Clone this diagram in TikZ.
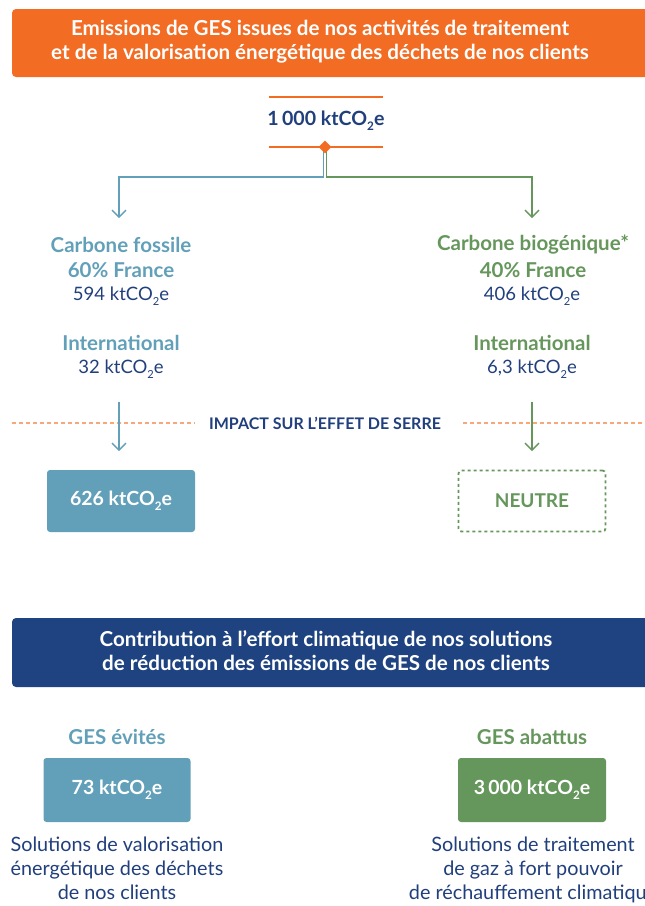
\documentclass[tikz,border=0pt]{standalone}
\usepackage{fontspec}
\setmainfont{Lato}
\usetikzlibrary{arrows.meta,shapes.geometric}
\definecolor{vorange}{HTML}{F26C23}
\definecolor{vlorange}{HTML}{F7A779}
\definecolor{vnavy}{HTML}{1E4380}
\definecolor{vtext}{HTML}{203F7C}
\definecolor{vblue}{HTML}{62A0B9}
\definecolor{vgreen}{HTML}{65965B}
\newcommand\kco{ktCO\raisebox{-0.5ex}{\scalebox{0.6}{2}}e}
\tikzset{
  hdrtext/.style={text=white, font=\fontsize{20.6}{24}\selectfont\bfseries, align=center},
  bluetxt/.style={text=vblue, font=\fontsize{20.5}{22}\selectfont\bfseries},
  greentxt/.style={text=vgreen, font=\fontsize{20.5}{22}\selectfont\bfseries},
  valtxt/.style={text=vtext, font=\fontsize{18.5}{22}\selectfont},
  bluecon/.style={draw=vblue, line width=1.4pt},
  greencon/.style={draw=vgreen, line width=1.4pt},
  tip/.style={-{Straight Barb[length=7pt,width=14pt,line width=1.4pt]}},
  boxtxt/.style={text=white, font=\fontsize{19.5}{22}\selectfont\bfseries},
  desc/.style={text=vtext, font=\fontsize{19.8}{24}\selectfont, align=center},
}
\begin{document}
\begin{tikzpicture}[x=1pt,y=-1pt]
\useasboundingbox (0,0) rectangle (645,906);
\clip (0,0) rectangle (645,906);
% top header
\fill[vorange, rounded corners=4pt] (12,9) rectangle (665,77);
\node[hdrtext] (h1) at (320,42) {Emissions de GES issues de nos activités de traitement\\ et de la valorisation énergétique des déchets de nos clients};
% total
\draw[vorange, line width=1.8pt] (269,97) -- (383,97);
\draw[vorange, line width=1.8pt] (269,147) -- (383,147);
\node[text=vtext, font=\fontsize{19.6}{22}\selectfont\bfseries] (tot) at (326,121) {1\,000 \kco};
\coordinate (split) at (325,147);
\coordinate (lc) at (119,177);
\coordinate (rc) at (532,177);
\coordinate (la) at (119,218);
\coordinate (ra) at (532,218);
\draw[bluecon, tip] ([xshift=-1.6pt]split) |- (lc) -- (la);
\draw[greencon, tip] ([xshift=1.6pt]split) |- (rc) -- (ra);
\node[diamond, fill=vorange, minimum size=13pt, inner sep=0pt] (dia) at (split) {};
% left column
\node[bluetxt] (cf) at (121,245) {Carbone fossile};
\node[bluetxt] (cf60) at (121,270) {60\% France};
\node[valtxt] (cf594) at (121,296) {594 \kco};
\node[bluetxt] (cfint) at (121,343) {International};
\node[valtxt] (cf32) at (121,369) {32 \kco};
% right column
\node[greentxt] (cb) at (533,245) {Carbone biogénique*};
\node[greentxt] (cb40) at (533,270) {40\% France};
\node[valtxt] (cb406) at (532,296) {406 \kco};
\node[greentxt] (cbint) at (532,343) {International};
\node[valtxt] (cb63) at (532,369) {6,3 \kco};
% impact line
\node[text=vtext, font=\fontsize{16}{18}\selectfont\bfseries] (imp) at (325,423) {IMPACT SUR L’EFFET DE SERRE};
\coordinate (dl0) at (12,423);
\coordinate (dr1) at (645,423);
\draw[vlorange, line width=1.3pt, dash pattern=on 4pt off 3pt] (dl0) -- (195,423);
\draw[vlorange, line width=1.3pt, dash pattern=on 4pt off 3pt] (463,423) -- (dr1);
% result boxes
\node[fill=vblue, rounded corners=3pt, minimum width=148pt, minimum height=62pt, boxtxt] (r1) at (121,501) {626 \kco};
\node[draw=vgreen, line width=1.8pt, dash pattern=on 3pt off 3pt, rounded corners=3pt, minimum width=147pt, minimum height=61pt, text=vgreen, font=\fontsize{19}{22}\selectfont\bfseries] (r2) at (532,501) {NEUTRE};
\coordinate (a1s) at (119,402);
\coordinate (a1e) at (119,451);
\coordinate (a2s) at (532,402);
\coordinate (a2e) at (532,451);
\draw[bluecon, tip] (a1s) -- (a1e);
\draw[greencon, tip] (a2s) -- (a2e);
% second header
\fill[vnavy, rounded corners=4pt] (12,618) rectangle (665,687);
\node[hdrtext] (h2) at (326,651) {Contribution à l’effort climatique de nos solutions\\ de réduction des émissions de GES de nos clients};
% bottom
\node[bluetxt] (ev) at (117,737) {GES évités};
\node[fill=vblue, rounded corners=3pt, minimum width=147pt, minimum height=64pt, boxtxt] (b1) at (117,790) {73 \kco};
\node[greentxt] (ab) at (532,737) {GES abattus};
\node[fill=vgreen, rounded corners=3pt, minimum width=148pt, minimum height=64pt, boxtxt] (b2) at (532,790) {3\,000 \kco};
\node[desc, anchor=north] (d1) at (117,833) {Solutions de valorisation\\ énergétique des déchets\\ de nos clients};
\node[desc, anchor=north] (d2) at (533,833) {Solutions de traitement\\ de gaz à fort pouvoir\\ de réchauffement climatique};
\end{tikzpicture}
\end{document}
